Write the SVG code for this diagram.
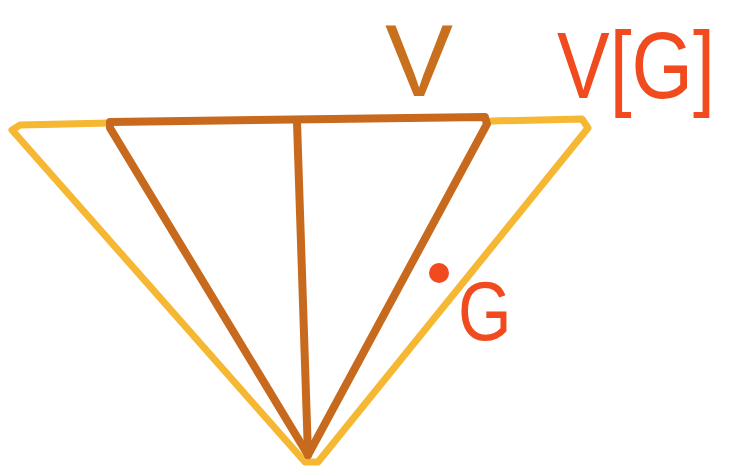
<svg xmlns="http://www.w3.org/2000/svg" width="735" height="469" viewBox="0 0 735 469">
<style>
.y{fill:none;stroke:#f6b733;stroke-width:7;stroke-linecap:round;stroke-linejoin:round}
.b{fill:none;stroke:#c86a1e;stroke-width:8;stroke-linecap:round;stroke-linejoin:round}
.lb{font-family:"Liberation Sans",Arial,sans-serif;fill:#c8701e}
.lr{font-family:"Liberation Sans",Arial,sans-serif;fill:#f04a1e}
</style>
<rect width="735" height="469" fill="#ffffff"/>
<g id="outer">
<polyline class="y" points="110,123 20,125 12,130 305,462 318,462 588,128 582,119 492,121"/>
</g>
<g id="inner">
<polyline class="b" points="110,122 485,117 487,124 308,455 110,128 110,122"/>
<line class="b" x1="297" y1="122" x2="308" y2="455"/>
</g>
<g id="label-V">
<text class="lb" transform="translate(385,96) scale(1,1)" font-size="102">V</text>
</g>
<g id="label-VG">
<text class="lr" transform="translate(557,98) scale(0.84,1)" font-size="94">V[G]</text>
</g>
<g id="point-G">
<circle cx="439" cy="273" r="10" fill="#f04a1e"/>
<text class="lr" transform="translate(458,340) scale(0.82,1)" font-size="84">G</text>
</g>
</svg>
